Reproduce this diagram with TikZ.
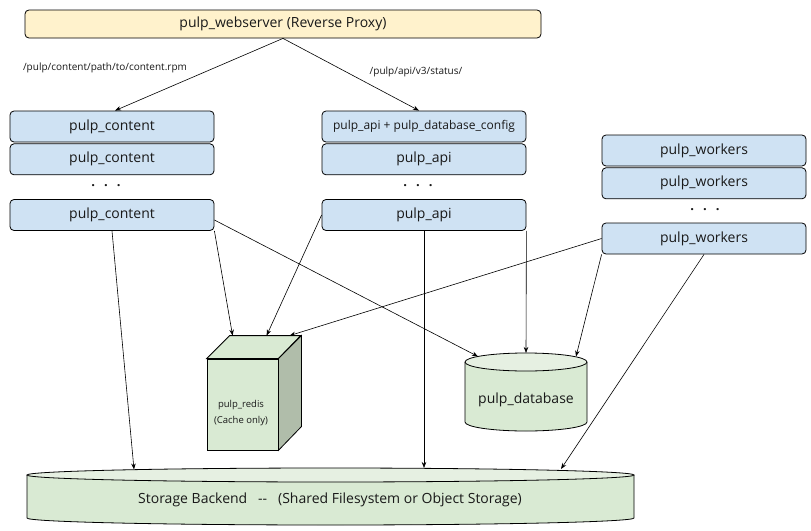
\documentclass[tikz,border=0pt]{standalone}
\usepackage{fontspec}
\setsansfont{Open Sans}
\usepackage{tikz}
\usetikzlibrary{arrows,arrows.meta,positioning,calc}

\definecolor{proxyfill}{HTML}{FFF2CC}
\definecolor{podfill}{HTML}{CFE2F3}
\definecolor{storefill}{HTML}{D9EAD3}
\definecolor{storetop}{HTML}{E6F0E2}
\definecolor{cubeside}{HTML}{B0BDAA}

\begin{document}
\begin{tikzpicture}[x=1pt,y=-1pt,font=\sffamily,line width=.8pt,
  every node/.style={align=center,text=black!90},
  proxy/.style={draw,rounded corners=4pt,fill=proxyfill,minimum width=516pt,minimum height=28pt,inner sep=0pt,font=\sffamily\fontsize{14}{16}\selectfont},
  pod/.style={draw,rounded corners=4pt,fill=podfill,minimum width=204pt,minimum height=31pt,inner sep=0pt,font=\sffamily\fontsize{14}{16}\selectfont},
  podsmall/.style={pod,font=\sffamily\fontsize{12}{14}\selectfont},
  dots/.style={inner sep=0pt,font=\sffamily\bfseries\fontsize{13}{14}\selectfont},
  url/.style={inner sep=0pt,font=\sffamily\fontsize{10}{12}\selectfont},
  cube/.style={draw,fill=storefill,minimum width=71pt,minimum height=91pt,inner sep=0pt},
  store/.style={inner sep=0pt,font=\sffamily\fontsize{14}{16}\selectfont},
  small/.style={inner sep=0pt,font=\sffamily\fontsize{9.5}{16}\selectfont},
  to/.style={-{Stealth[length=6pt,width=4.5pt]},line width=.6pt}]

    \useasboundingbox[fill=white] (0,0) rectangle (811,530);

    % proxy and the three pod columns
    \node[proxy] (proxy) at (283,24) {pulp\_webserver (Reverse Proxy)};

    \node[pod] (content1) at (112,126.5) {pulp\_content};
    \node[pod,below=1pt of content1] (content2) {pulp\_content};
    \node[dots] (cdots) at (106,186) {.\hspace{9pt}.\hspace{9pt}.};
    \node[pod] (content3) at (112,215) {pulp\_content};

    \node[podsmall] (api1) at (424,126.5) {pulp\_api + pulp\_database\_config};
    \node[pod,below=1pt of api1] (api2) {pulp\_api};
    \node[dots] (adots) at (418,186) {.\hspace{9pt}.\hspace{9pt}.};
    \node[pod] (api3) at (424,215) {pulp\_api};

    \node[pod] (workers1) at (704,150.5) {pulp\_workers};
    \node[pod,below=1pt of workers1] (workers2) {pulp\_workers};
    \node[dots] (wdots) at (705,210) {.\hspace{9pt}.\hspace{9pt}.};
    \node[pod] (workers3) at (704,238.5) {pulp\_workers};

    \node[url] (contentpath) at (105,68) {/pulp/content/path/to/content.rpm};
    \node[url] (apipath) at (416,72) {/pulp/api/v3/status/};

    % redis cube
    \node[cube] (redis) at (242.5,404.5) {};
    \draw[fill=storefill] (redis.north west) -- ++(23,-23) -- ++(71,0) -- (redis.north east) -- cycle;
    \draw[fill=cubeside] (redis.north east) -- ++(23,-23) -- ++(0,91) -- (redis.south east) -- cycle;
    \node[small] (redistext) at (241,413) {pulp\_redis\\(Cache only)};
    \coordinate (redisA) at ($(redis.north west)+(26,-23)$);
    \coordinate (redisB) at ($(redis.north west)+(60,-23)$);
    \coordinate (redisC) at ($(redis.north west)+(83,-23)$);

    % database cylinder
    \fill[storefill] (465,362) -- (465,422) arc[start angle=180,end angle=360,x radius=61pt,y radius=9pt] -- (587,362) -- cycle;
    \draw (465,362) -- (465,422) arc[start angle=180,end angle=360,x radius=61pt,y radius=9pt] -- (587,362);
    \draw[fill=storetop] (526,362) ellipse[x radius=61pt,y radius=9pt];
    \node[store] (db) at (526,400) {pulp\_database};
    \coordinate (dbA) at (478,356.5);
    \coordinate (dbB) at (526,353);
    \coordinate (dbC) at (576,356.5);

    % storage backend
    \fill[storefill] (27,475) -- (27,518) arc[start angle=180,end angle=360,x radius=303.5pt,y radius=7pt] -- (634,475) -- cycle;
    \draw (27,475) -- (27,518) arc[start angle=180,end angle=360,x radius=303.5pt,y radius=7pt] -- (634,475);
    \draw[fill=storetop] (330.5,475) ellipse[x radius=303.5pt,y radius=7pt];
    \node[store] (storage) at (330,500) {Storage Backend\ \ \ -{}-\ \ \ (Shared Filesystem or Object Storage)};
    \coordinate (storeA) at (134,469.5);
    \coordinate (storeB) at (424,468);
    \coordinate (storeC) at (561,469);

    % connectors
    \draw[to] (proxy.south) -- ($(content1.north)+(3,0)$);
    \draw[to] (proxy.south) -- ($(api1.north)+(-5,0)$);

    \draw[to] (content3.south) -- (storeA);
    \draw[to] (content3.south east) -- (redisA);
    \draw[to] ([yshift=-5pt]content3.east) -- (dbA);

    \draw[to] (api3.west) -- (redisB);
    \draw[to] (api3.south) -- (storeB);
    \draw[to] (api3.south east) -- (dbB);

    \draw[to] (workers3.west) -- (redisC);
    \draw[to] (workers3.south west) -- (dbC);
    \draw[to] (workers3.south) -- (storeC);
\end{tikzpicture}
\end{document}
